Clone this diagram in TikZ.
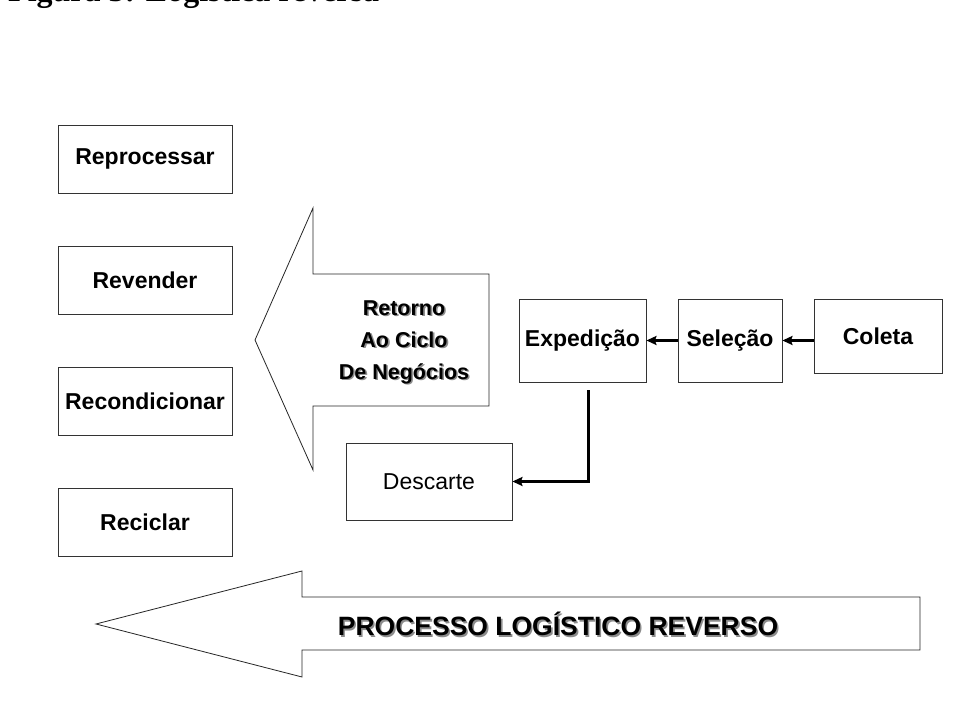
\documentclass[tikz,border=0pt]{standalone}
\usepackage{fontspec}
\setmainfont{Liberation Sans}
\newfontfamily\serifbold{Liberation Serif}
\usetikzlibrary{calc,arrows.meta}
\newcommand{\shad}[1]{\rlap{\hspace{1.6pt}\raisebox{-1.6pt}{\color{black!45}#1}}#1}

\begin{document}
\begin{tikzpicture}[x=1pt,y=1pt,>={Stealth[length=10pt,width=9pt,inset=1.5pt]},
caixa/.style={draw=black!80,line width=0.9pt,inner sep=0pt,font=\fontsize{23}{26}\selectfont\bfseries},
seta/.style={->,line width=3pt},
bloco/.style={draw=black!85,line width=0.8pt,line join=miter}]
\useasboundingbox (0,0) rectangle (956,720);
\clip (0,0) rectangle (956,720);
\fill[white] (0,0) rectangle (956,720);
\node[anchor=base west,inner sep=0pt,font=\fontsize{32}{36}\selectfont\serifbold\bfseries] (titulo) at (8,718) {Figura 3: Logística reversa};

% caixas da esquerda
\foreach \t/\y/\n in {Reprocessar/561/reprocessar,Revender/440/revender,Recondicionar/319/recondicionar,Reciclar/197.5/reciclar} {
\node[caixa,minimum width=174pt,minimum height=68pt] (\n) at (145,\y) {\t};
}

% seta grande: retorno
\draw[bloco] (255,380) -- (313,512) -- (313,446) -- (489,446) -- (489,314) -- (313,314) -- (313,250) -- cycle;
\node[align=center,font=\fontsize{21.5}{32}\selectfont\bfseries] (retorno) at (404,377) {\shad{Retorno}\\\shad{Ao Ciclo}\\\shad{De Negócios}};

% seta de baixo
\draw[bloco] (96,96) -- (302,149) -- (302,123) -- (920,123) -- (920,70) -- (302,70) -- (302,43) -- cycle;
\node[font=\fontsize{26.5}{30}\selectfont\bfseries] (processo) at (558,95) {\shad{PROCESSO LOGÍSTICO REVERSO}};

% caixas da direita
\node[caixa,minimum width=127pt,minimum height=83pt] (expedicao) at (582.5,379.5) {Expedição};
\node[caixa,minimum width=104pt,minimum height=83pt] (selecao) at (730,379.5) {Seleção};
\node[caixa,minimum width=128pt,minimum height=74pt] (coleta) at (878,384) {Coleta};
\node[caixa,font=\fontsize{23}{26}\selectfont,minimum width=166pt,minimum height=77pt] (descarte) at (429,238.5) {Descarte};

\draw[seta] (selecao.east -| coleta.west) -- (selecao.east);
\draw[seta] (selecao.west) -- (expedicao.east);
\draw[seta] ($(expedicao.south)+(5.5,-8)$) |- (descarte.east);
\end{tikzpicture}
\end{document}
